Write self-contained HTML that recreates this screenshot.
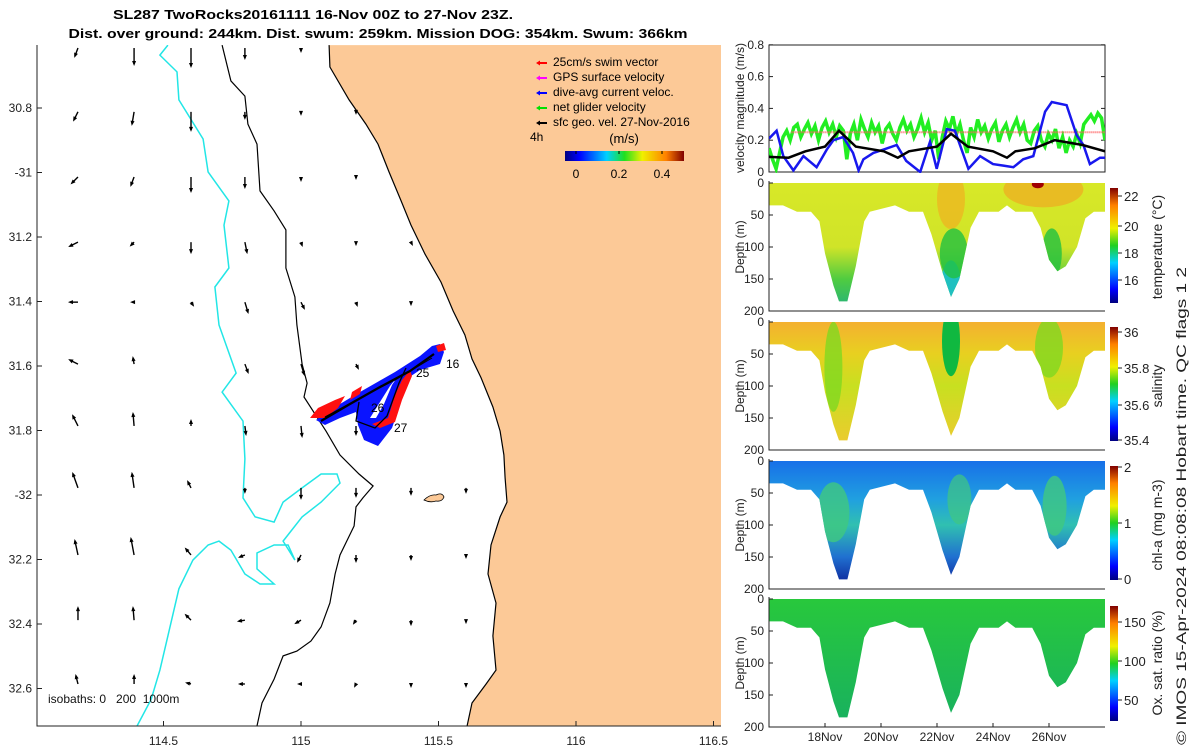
<!DOCTYPE html>
<html><head><meta charset="utf-8">
<style>
html,body{margin:0;padding:0;background:#fff;}
svg{display:block;font-family:"Liberation Sans","DejaVu Sans",sans-serif;}
</style></head>
<body>
<svg id="fig" width="1200" height="750" viewBox="0 0 1200 750" xmlns="http://www.w3.org/2000/svg">
<defs>
 <linearGradient id="jetH" x1="0" x2="1" y1="0" y2="0">
  <stop offset="0" stop-color="#00007f"/><stop offset="0.12" stop-color="#0000ff"/><stop offset="0.35" stop-color="#00d0ff"/><stop offset="0.5" stop-color="#20e020"/><stop offset="0.65" stop-color="#f0f000"/><stop offset="0.85" stop-color="#ff8000"/><stop offset="1" stop-color="#800000"/>
 </linearGradient>
 <linearGradient id="jetV" x1="0" x2="0" y1="1" y2="0">
  <stop offset="0" stop-color="#00007f"/><stop offset="0.12" stop-color="#0000ff"/><stop offset="0.35" stop-color="#00d0ff"/><stop offset="0.5" stop-color="#20d020"/><stop offset="0.65" stop-color="#f0f000"/><stop offset="0.85" stop-color="#ff8000"/><stop offset="1" stop-color="#800000"/>
 </linearGradient>
 <linearGradient id="gTemp" x1="0" x2="0" y1="0" y2="1"><stop offset="0" stop-color="#d8e828"/><stop offset="0.5" stop-color="#d0e428"/><stop offset="0.75" stop-color="#50cc40"/><stop offset="1" stop-color="#20b080"/></linearGradient>
 <linearGradient id="gSal" x1="0" x2="0" y1="0" y2="1"><stop offset="0" stop-color="#f4b030"/><stop offset="0.25" stop-color="#e8d020"/><stop offset="0.5" stop-color="#c8e020"/><stop offset="1" stop-color="#f0c830"/></linearGradient>
 <linearGradient id="gChl" x1="0" x2="0" y1="0" y2="1"><stop offset="0" stop-color="#1870e8"/><stop offset="0.3" stop-color="#20a0e0"/><stop offset="0.5" stop-color="#30c0b0"/><stop offset="0.75" stop-color="#2070d0"/><stop offset="1" stop-color="#0a1890"/></linearGradient>
 <linearGradient id="gOxy" x1="0" x2="0" y1="0" y2="1"><stop offset="0" stop-color="#28c83c"/><stop offset="1" stop-color="#18b060"/></linearGradient>
</defs>
<g id="title" font-weight="bold" font-size="13" text-anchor="middle">
 <text x="313" y="19" textLength="400" lengthAdjust="spacingAndGlyphs">SL287 TwoRocks20161111 16-Nov 00Z to 27-Nov 23Z.</text>
 <text x="378" y="38" textLength="619" lengthAdjust="spacingAndGlyphs">Dist. over ground: 244km. Dist. swum: 259km. Mission DOG: 354km. Swum: 366km</text>
</g>
<g id="map"></g>
<g id="right"></g>
<text transform="translate(1186,745) rotate(-90)" font-size="14" textLength="478" lengthAdjust="spacingAndGlyphs" fill="#222">© IMOS 15-Apr-2024 08:08:08 Hobart time. QC flags 1  2</text>
</svg>
<script>
// ---------- data ----------
const latTicks = ["30.8","-31","31.2","31.4","31.6","31.8","-32","32.2","32.4","32.6"];
const latVals = [30.8,31.0,31.2,31.4,31.6,31.8,32.0,32.2,32.4,32.6];
const lonTicks = ["114.5","115","115.5","116","116.5"];
const lonVals = [114.5,115,115.5,116,116.5];
const coastLon = [115.102,115.105,115.175,115.236,115.280,115.320,115.364,115.400,115.451,115.509,115.553,115.596,115.622,115.655,115.698,115.724,115.738,115.742,115.749,115.724,115.691,115.680,115.709,115.698,115.709,115.673,115.622,115.604];
const coastLat = [30.605,30.673,30.775,30.850,30.912,30.998,31.088,31.163,31.253,31.340,31.429,31.504,31.578,31.637,31.727,31.802,31.876,31.947,32.022,32.068,32.155,32.245,32.335,32.437,32.543,32.586,32.645,32.716];
const iso200Lon = [114.713,114.745,114.796,114.807,114.840,114.851,114.902,114.945,114.945,114.978,114.985,115.004,115.022,115.011,115.091,115.142,115.211,115.262,115.225,115.200,115.193,115.142,115.124,115.105,115.073,115.036,114.985,114.935,114.902,114.858,114.840];
const iso200Lat = [30.605,30.716,30.763,30.850,30.912,31.057,31.119,31.178,31.296,31.386,31.473,31.594,31.653,31.696,31.802,31.876,31.935,31.972,32.009,32.037,32.096,32.186,32.245,32.335,32.409,32.453,32.484,32.499,32.571,32.645,32.716];
const iso1000Lon = [114.516,114.487,114.549,114.556,114.644,114.662,114.738,114.720,114.738,114.687,114.702,114.764,114.713,114.789,114.796,114.789,114.833,114.902,114.935,115.004,115.073,115.131,115.142,115.073,115.004,114.935,114.978,114.953,114.902,114.840,114.840,114.902,114.851,114.796,114.745,114.702,114.662,114.607,114.556,114.516,114.487,114.455,114.404];
const iso1000Lat = [30.605,30.636,30.688,30.775,30.896,30.998,31.088,31.163,31.296,31.355,31.473,31.622,31.681,31.771,31.888,32.009,32.068,32.084,32.022,31.978,31.935,31.935,31.963,32.022,32.068,32.143,32.202,32.155,32.155,32.180,32.229,32.276,32.276,32.245,32.171,32.143,32.155,32.202,32.291,32.437,32.543,32.634,32.716];
// surface current vectors (u,v in px units per row, columns left to right)
const vecU = [[-3,0,0,0,0,0,0,0],[-4,-2,0,0,0,0,0,0],[-6,-3,0,0,0,0,0,0],[-8,-3,0,2,1,0,1,0],[-8,-2,2,3,3,1,0,0],[-8,-1,0,3,3,2,0,0],[-5,-1,0,1,1,0,0,0],[-5,-2,-3,0,0,0,0,0],[-3,-3,-5,-5,-3,0,0,0],[0,-1,-5,-6,-5,-2,0,0],[-2,0,-4,-5,-2,-1,0,0]];
const vecV = [[8,16,18,10,3,0,0,0],[8,12,18,6,2,1,0,0],[6,8,14,10,3,1,0,0],[4,3,10,10,3,2,2,0],[0,0,3,10,6,3,2,0],[-4,-6,0,8,10,4,2,0],[-10,-12,-5,8,10,8,0,0],[-14,-14,-6,4,10,8,6,4],[-14,-16,-6,2,6,6,4,2],[-12,-12,-5,1,3,3,4,2],[-8,-8,-1,0,0,2,2,2]];
const vecLon = [114.189,114.393,114.600,114.796,115.0,115.2,115.4,115.6];
const vecLat = [30.614,30.812,31.014,31.216,31.402,31.594,31.786,31.978,32.186,32.388,32.586];
// velocity panel
const blackDay = [16,16.7,17.3,18,18.5,19.1,20.1,20.6,21,22,22.5,23.1,24.0,24.5,24.8,25.5,26.2,27.2,28];
const blackVel = [0.095,0.09,0.13,0.16,0.26,0.16,0.13,0.09,0.13,0.16,0.24,0.16,0.13,0.09,0.13,0.15,0.20,0.17,0.13];
const blueDay = [16,16.27,16.51,16.87,17.23,17.7,18.06,18.3,18.65,19.0,19.2,19.37,19.73,20.08,20.56,20.9,21.4,21.75,21.99,22.35,22.64,23.12,23.54,24.0,24.37,24.73,25.08,25.44,25.62,25.86,26.1,26.63,26.99,27.23,27.46,27.82,28];
const blueVel = [0.21,0.26,0.1,0.01,0.1,0.03,0.14,0.2,0.22,0.12,0.01,0.08,0.12,0.14,0.17,0.07,0.0,0.19,0.02,0.27,0.26,0.02,0.1,0.05,0.04,0.03,0.08,0.1,0.22,0.38,0.44,0.42,0.23,0.17,0.05,0.09,0.09];
const greenVel = [0.15,0.08,0.02,0.12,0.22,0.26,0.2,0.28,0.3,0.22,0.27,0.31,0.24,0.29,0.2,0.28,0.32,0.25,0.3,0.22,0.29,0.26,0.08,0.24,0.3,0.2,0.33,0.27,0.22,0.31,0.25,0.29,0.18,0.27,0.3,0.24,0.2,0.28,0.33,0.26,0.3,0.22,0.27,0.34,0.25,0.31,0.2,0.26,0.08,0.22,0.32,0.27,0.35,0.24,0.3,0.2,0.12,0.28,0.22,0.33,0.25,0.29,0.21,0.27,0.31,0.19,0.26,0.3,0.22,0.28,0.33,0.25,0.3,0.2,0.18,0.26,0.29,0.2,0.16,0.24,0.2,0.27,0.15,0.22,0.12,0.2,0.16,0.24,0.18,0.3,0.33,0.36,0.32,0.37,0.34,0.2];
// depth envelope of glider profiles
const envDay = [16,16.5,17,17.5,17.8,18.0,18.3,18.5,18.8,19.1,19.4,19.6,20.5,21,21.5,21.8,22.2,22.5,22.8,23.2,23.5,24.2,24.5,24.8,25.4,25.7,26.0,26.3,26.6,27.0,27.3,27.6,28];
const envDepth = [35,35,45,45,60,110,160,185,185,130,60,45,35,45,45,80,140,178,150,70,45,45,35,45,45,70,120,138,130,100,55,45,45];
const dayTicks = [18,20,22,24,26];
const dayLabels = ["18Nov","20Nov","22Nov","24Nov","26Nov"];
const depthTicks = [0,50,100,150,200];
const velTicks = [0,0.2,0.4,0.6,0.8];

// ---------- helpers ----------
const NS="http://www.w3.org/2000/svg";
function mk(parent,tag,attrs,text){const e=document.createElementNS(NS,tag);for(const k in attrs)e.setAttribute(k,attrs[k]);if(text!==undefined)e.textContent=text;parent.appendChild(e);return e;}
const mapX = lon => 301 + (lon-115)*275;
const mapY = lat => 108 + (lat-30.8)*322.5;
const dX = d => 769 + (d-16)*28;
const vY = v => 172 - v*159;

// ---------- map ----------
const map=document.getElementById('map');
const clip=mk(document.querySelector('defs'),'clipPath',{id:'mapclip'});
mk(clip,'rect',{x:37,y:45,width:684,height:681});
const inner=mk(map,'g',{'clip-path':'url(#mapclip)'});
let cp=coastLon.map((l,i)=>mapX(l).toFixed(1)+','+mapY(coastLat[i]).toFixed(1));
const land=mk(inner,'polygon',{points:cp.join(' ')+' 721,726 721,45',fill:'#fcc997',stroke:'none'});


const island=mk(inner,'path',{d:'M424,500 q6,-6 12,-5 q6,-3 8,2 q-2,5 -8,4 q-6,2 -12,-1z',fill:'#fcc997',stroke:'#000','stroke-width':0.8});


const coast=mk(inner,'polyline',{points:cp.join(' '),fill:'none',stroke:'#000','stroke-width':1.2});


const i2=mk(inner,'polyline',{points:iso200Lon.map((l,i)=>mapX(l).toFixed(1)+','+mapY(iso200Lat[i]).toFixed(1)).join(' '),fill:'none',stroke:'#000','stroke-width':1.2});


const i1=mk(inner,'polyline',{points:iso1000Lon.map((l,i)=>mapX(l).toFixed(1)+','+mapY(iso1000Lat[i]).toFixed(1)).join(' '),fill:'none',stroke:'#22e6e6','stroke-width':1.5});


// vectors
for(let r=0;r<vecLat.length;r++)for(let c=0;c<vecLon.length;c++){
 const x=mapX(vecLon[c]),y=mapY(vecLat[r]),u=vecU[r][c],v=vecV[r][c];
 const g=mk(inner,'g',{});
 
 
 mk(g,'line',{x1:x,y1:y,x2:x+u,y2:y+v,stroke:'#000','stroke-width':1.4});
 const L=Math.hypot(u,v)||1, ux=u/L, uy=v/L;
 const tx=x+u,ty=y+v;
 mk(g,'polygon',{points:`${tx+ux*2},${ty+uy*2} ${tx-ux*3-uy*2},${ty-uy*3+ux*2} ${tx-ux*3+uy*2},${ty-uy*3-ux*2}`,fill:'#000'});
}
// glider track
const trk=mk(inner,'g',{});


mk(trk,'path',{d:'M316,420 L330,410 L360,392 L395,372 L420,356 L432,346 L440,344 L444,352 L440,364 L420,370 L405,380 L400,405 L392,428 L378,446 L364,440 L358,425 L356,412 L340,418 L325,425z',fill:'#0a14ff'});
mk(trk,'path',{d:'M310,418 L318,408 L335,400 L345,396 L338,408 L325,418z',fill:'#ff1010'});
mk(trk,'path',{d:'M352,392 L362,386 L360,394 L350,400z',fill:'#ff1010'});
mk(trk,'path',{d:'M388,418 L395,395 L402,380 L410,370 L412,376 L402,400 L395,422 L380,428 L372,424z',fill:'#ff1010'});
mk(trk,'path',{d:'M436,346 L444,343 L446,350 L438,352z',fill:'#ff1010'});
mk(trk,'path',{d:'M376,418 L384,404 L392,385 L398,376 L390,386 L380,402 L370,418z',fill:'#fff'});
mk(trk,'polyline',{points:'321,421 350,404 380,387 410,371 434,354',fill:'none',stroke:'#000','stroke-width':2.2});
mk(trk,'polyline',{points:'325,417 360,398 395,380 432,358',fill:'none',stroke:'#000','stroke-width':1});
mk(trk,'polyline',{points:'359,402 356,421 375,428 387,416 399,383 406,368',fill:'none',stroke:'#000','stroke-width':1.3});
[['16',446,368],['26',371,412],['27',394,432],['25',416,377]].forEach(t=>{const e=mk(trk,'text',{x:t[1],y:t[2],'font-size':12},t[0]);});
// axes box
const ax=mk(map,'g',{});


mk(ax,'polyline',{points:'37,45 37,726 721,726',fill:'none',stroke:'#222','stroke-width':1});
latTicks.forEach((t,i)=>{const y=mapY(latVals[i]);mk(ax,'line',{x1:37,y1:y,x2:42,y2:y,stroke:'#222'});const e=mk(ax,'text',{x:32,y:y+4,'font-size':12,'text-anchor':'end',fill:'#222'},t);});
lonTicks.forEach((t,i)=>{const x=mapX(lonVals[i]);mk(ax,'line',{x1:x,y1:726,x2:x,y2:721,stroke:'#222'});const e=mk(ax,'text',{x:x,y:745,'font-size':12,'text-anchor':'middle',fill:'#222'},t);});
const iso=mk(ax,'text',{x:48,y:703,'font-size':12,fill:'#111',style:'white-space:pre'},'isobaths: 0   200  1000m');


// legend
const lg=mk(map,'g',{'font-size':12});


const legText=["25cm/s swim vector","GPS surface velocity","dive-avg current veloc.","net glider velocity","sfc geo. vel. 27-Nov-2016"];
const legCol=["#ff0000","#ff00ff","#0000ff","#00e000","#000000"];
legText.forEach((t,i)=>{const y=66+i*15;const e=mk(lg,'g',{});mk(e,'line',{x1:538,y1:y-3,x2:547,y2:y-3,stroke:legCol[i],'stroke-width':2});mk(e,'polygon',{points:`536,${y-3} 540,${y-5.5} 540,${y-0.5}`,fill:legCol[i]});mk(e,'text',{x:553,y:y},t);});
mk(lg,'text',{x:530,y:141,'font-size':12},'4h');
mk(lg,'text',{x:624,y:143,'font-size':13,'text-anchor':'middle'},'(m/s)');
mk(lg,'rect',{x:565,y:151,width:119,height:10,fill:'url(#jetH)'});
[[0,'0'],[0.2,'0.2'],[0.4,'0.4']].forEach(t=>{const x=576+t[0]*215;mk(lg,'line',{x1:x,y1:151,x2:x,y2:154,stroke:'#000'});mk(lg,'text',{x:x,y:178,'text-anchor':'middle','font-size':12},t[1]);});

// ---------- right panels ----------
const R=document.getElementById('right');
const vp=mk(R,'g',{});


mk(vp,'rect',{x:769,y:45,width:336,height:127,fill:'none',stroke:'#222'});
velTicks.forEach(v=>{const y=vY(v);mk(vp,'line',{x1:769,y1:y,x2:773,y2:y,stroke:'#222'});mk(vp,'line',{x1:1105,y1:y,x2:1101,y2:y,stroke:'#222'});const e=mk(vp,'text',{x:764,y:y+4,'font-size':12,'text-anchor':'end',fill:'#222'},v===0?'0':String(v));});
mk(vp,'text',{transform:'translate(744,108) rotate(-90)','font-size':12,'text-anchor':'middle',fill:'#222'},'velocity magnitude (m/s)');
const vclip=mk(document.querySelector('defs'),'clipPath',{id:'vclip'});mk(vclip,'rect',{x:769,y:45,width:336,height:128});
const vg=mk(vp,'g',{'clip-path':'url(#vclip)'});
const gl=mk(vg,'polyline',{points:greenVel.map((v,i)=>dX(16+i*12/(greenVel.length-1)).toFixed(1)+','+vY(v).toFixed(1)).join(' '),fill:'none',stroke:'#22ee22','stroke-width':3.5});


const rl=mk(vg,'line',{x1:dX(16.8),y1:vY(0.25),x2:dX(28),y2:vY(0.25),stroke:'#ff6060','stroke-width':2,'stroke-dasharray':'1 1'});


const bl=mk(vg,'polyline',{points:blueDay.map((d,i)=>dX(d).toFixed(1)+','+vY(blueVel[i]).toFixed(1)).join(' '),fill:'none',stroke:'#1818ee','stroke-width':2.5});


const kl=mk(vg,'polyline',{points:blackDay.map((d,i)=>dX(d).toFixed(1)+','+vY(blackVel[i]).toFixed(1)).join(' '),fill:'none',stroke:'#000','stroke-width':2.5});



const panels=[
 {name:'temperature',top:183,grad:'gTemp',label:'temperature (°C)',cb:[188,303],ticks:[['22',196],['20',226],['18',253],['16',280]]},
 {name:'salinity',top:322,grad:'gSal',label:'salinity',cb:[327,441],ticks:[['36',332],['35.8',368],['35.6',405],['35.4',440]]},
 {name:'chlorophyll',top:461,grad:'gChl',label:'chl-a (mg m-3)',cb:[466,580],ticks:[['2',467],['1',523],['0',579]]},
 {name:'oxygen',top:599,grad:'gOxy',label:'Ox. sat. ratio (%)',cb:[606,721],ticks:[['150',622],['100',661],['50',700]]}
];
panels.forEach((p,pi)=>{
 const g=mk(R,'g',{});
 
 
 const dY=d=>p.top+d*0.64;
 let pts=[dX(16)+','+dY(0)];
 envDay.forEach((d,i)=>pts.push(dX(d).toFixed(1)+','+dY(envDepth[i]).toFixed(1)));
 pts.push(dX(28)+','+dY(0));
 const cid='pc'+pi;
 const c=mk(document.querySelector('defs'),'clipPath',{id:cid});
 mk(c,'polygon',{points:pts.join(' ')});
 const fg=mk(g,'g',{'clip-path':`url(#${cid})`});
 mk(fg,'rect',{x:769,y:p.top,width:336,height:128,fill:`url(#${p.grad})`});
 if(pi===0){mk(fg,'ellipse',{cx:dX(22.5),cy:dY(25),rx:14,ry:30,fill:'#f0b020',opacity:0.7});mk(fg,'ellipse',{cx:dX(25.8),cy:dY(10),rx:40,ry:18,fill:'#f4a020',opacity:0.6});mk(fg,'ellipse',{cx:dX(25.6),cy:dY(2),rx:6,ry:4,fill:'#a00000'});mk(fg,'ellipse',{cx:dX(22.5),cy:dY(160),rx:10,ry:25,fill:'#20c0c0'});mk(fg,'ellipse',{cx:dX(26.1),cy:dY(110),rx:10,ry:25,fill:'#20c040',opacity:0.8});mk(fg,'ellipse',{cx:dX(22.6),cy:dY(110),rx:14,ry:25,fill:'#20c040',opacity:0.8});}
 if(pi===1){mk(fg,'ellipse',{cx:dX(22.5),cy:dY(30),rx:9,ry:35,fill:'#10b840'});mk(fg,'ellipse',{cx:dX(18.3),cy:dY(70),rx:9,ry:45,fill:'#80d820',opacity:0.8});mk(fg,'ellipse',{cx:dX(26),cy:dY(40),rx:14,ry:30,fill:'#80d820',opacity:0.8});}
 if(pi===2){mk(fg,'ellipse',{cx:dX(18.3),cy:dY(80),rx:16,ry:30,fill:'#40c880',opacity:0.8});mk(fg,'ellipse',{cx:dX(22.8),cy:dY(60),rx:12,ry:25,fill:'#40c880',opacity:0.7});mk(fg,'ellipse',{cx:dX(26.2),cy:dY(70),rx:12,ry:30,fill:'#40c880',opacity:0.8});}
 mk(g,'polyline',{points:`769,${p.top-2} 769,${p.top+128} 1105,${p.top+128}`,fill:'none',stroke:'#222'});
 depthTicks.forEach(d=>{const y=dY(d);mk(g,'line',{x1:769,y1:y,x2:773,y2:y,stroke:'#222'});const e=mk(g,'text',{x:764,y:y+4,'font-size':12,'text-anchor':'end',fill:'#222'},String(d));});
 mk(g,'text',{transform:`translate(744,${p.top+64}) rotate(-90)`,'font-size':12,'text-anchor':'middle',fill:'#222'},'Depth (m)');
 mk(g,'rect',{x:1110,y:p.cb[0],width:8,height:p.cb[1]-p.cb[0],fill:'url(#jetV)'});
 p.ticks.forEach(t=>{mk(g,'line',{x1:1118,y1:t[1],x2:1122,y2:t[1],stroke:'#222'});mk(g,'text',{x:1124,y:t[1]+5,'font-size':13,fill:'#222'},t[0]);});
 mk(g,'text',{transform:`translate(1162,${p.top+64}) rotate(-90)`,'font-size':14,'text-anchor':'middle',fill:'#222'},p.label);
 if(pi===3){dayTicks.forEach((d,i)=>{const x=dX(d);mk(g,'line',{x1:x,y1:727,x2:x,y2:723,stroke:'#222'});const e=mk(g,'text',{x:x,y:741,'font-size':12,'text-anchor':'middle',fill:'#222'},dayLabels[i]);});}
});
</script>
</body></html>
